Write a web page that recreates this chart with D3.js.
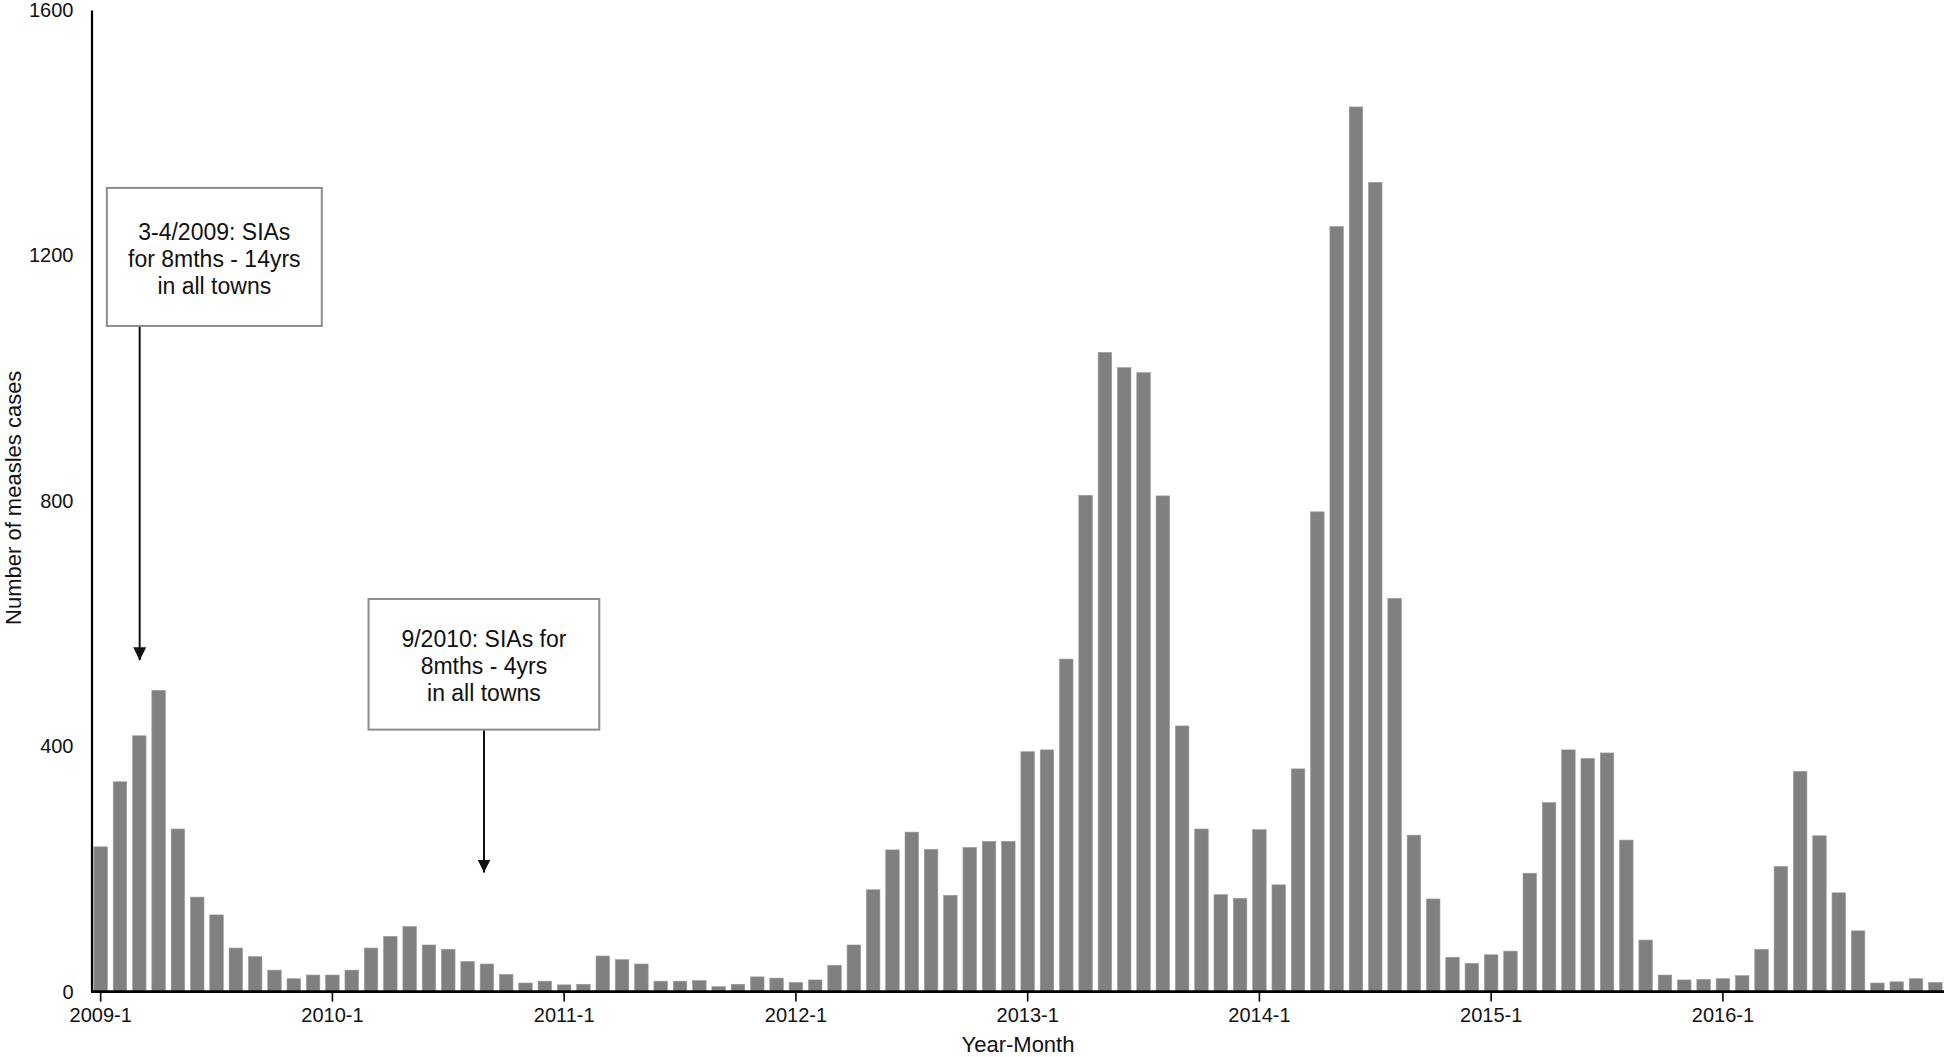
<!DOCTYPE html>
<html>
<head>
<meta charset="utf-8">
<script src="https://cdn.jsdelivr.net/npm/d3@7"></script>
<style>
  body { margin: 0; background: #fff; }
  svg { display: block; font-family: "Liberation Sans", Arial, sans-serif; }
  .bar { fill: #808080; stroke: #9a9a9a; stroke-width: 0.6; }
  .tick-label { font-size: 20px; fill: #111; }
  .axis-title { font-size: 22px; fill: #111; }
  .note-box { fill: #fff; stroke: #8c8c8c; stroke-width: 2; }
  .note-text { font-size: 23px; fill: #111; }
</style>
</head>
<body>
<svg id="chart"></svg>
<script>
// monthly measles cases, 2009-1 .. 2016-12
const years = [2009, 2010, 2011, 2012, 2013, 2014, 2015, 2016];
const months = years.flatMap(y => d3.range(1, 13).map(m => `${y}-${m}`));

const cases = [
  236, 342, 417, 491, 265, 154, 125, 71, 57, 35, 21, 27,
  27, 35, 71, 90, 106, 76, 69, 49, 45, 28, 14, 17,
  11, 12, 58, 52, 45, 17, 17, 18, 8, 12, 24, 22,
  15, 19, 43, 76, 166, 231, 260, 232, 157, 235, 245, 245,
  391, 394, 542, 809, 1042, 1017, 1009, 808, 433, 265, 158, 152,
  264, 174, 363, 782, 1247, 1442, 1319, 641, 255, 151, 56, 46,
  60, 66, 193, 308, 394, 380, 389, 247, 84, 27, 19, 20,
  21, 26, 69, 204, 359, 254, 161, 99, 14, 16, 21, 15
];

const xTicks = ["2009-1", "2010-1", "2011-1", "2012-1", "2013-1", "2014-1", "2015-1", "2016-1"];
const yTicks = [0, 400, 800, 1200, 1600];

const noteLines = [
  ["3-4/2009: SIAs", "for 8mths - 14yrs", "in all towns"],
  ["9/2010: SIAs for", "8mths - 4yrs", "in all towns"]
];

const width = 1946, height = 1057;
const margin = {top: 10, right: 1, bottom: 65, left: 91};

const svg = d3.select("#chart")
    .attr("width", width)
    .attr("height", height);

const x = d3.scaleBand()
    .domain(months)
    .range([margin.left, width - margin.right])
    .paddingInner(0.3)
    .paddingOuter(0.15);

const y = d3.scaleLinear()
    .domain([0, 1600])
    .range([height - margin.bottom - 0.4, margin.top]);

const data = months.map((m, i) => ({month: m, value: cases[i]}));

// position in month steps, counted from the first band centre
const xAt = i => x(months[0]) + x.bandwidth() / 2 + i * x.step();

svg.selectAll(".bar")
    .data(data)
    .enter().append("rect")
    .attr("class", "bar")
    .attr("x", d => x(d.month))
    .attr("y", d => y(d.value))
    .attr("width", x.bandwidth())
    .attr("height", d => y(0) - y(d.value));

// x axis
const xAxis = d3.axisBottom(x)
    .tickValues(xTicks)
    .tickSize(10)
    .tickSizeOuter(0)
    .tickPadding(6);

const gx = svg.append("g")
    .attr("transform", `translate(0,${y(0)})`)
    .call(xAxis);
gx.select(".domain")
    .attr("stroke", "#000")
    .attr("stroke-width", 2.6)
    .attr("d", `M${margin.left},0H${width - 2}`);
gx.selectAll(".tick line").attr("stroke", "#000").attr("stroke-width", 1.6);
gx.selectAll(".tick text")
    .attr("class", "tick-label")
    .attr("font-family", null)
    .attr("font-size", null)
    .attr("fill", null);

// y axis
const yAxis = d3.axisLeft(y)
    .tickValues(yTicks)
    .tickFormat(d3.format("d"))
    .tickSize(0)
    .tickPadding(18);

const gy = svg.append("g")
    .attr("transform", `translate(${margin.left + 0.5},0)`)
    .call(yAxis);
gy.select(".domain").attr("stroke", "#000").attr("stroke-width", 2.2);
gy.selectAll(".tick text")
    .attr("class", "tick-label")
    .attr("font-family", null)
    .attr("font-size", null)
    .attr("fill", null);

svg.append("text")
    .attr("class", "axis-title")
    .attr("x", xAt(47.5))
    .attr("y", height - 5)
    .attr("text-anchor", "middle")
    .text("Year-Month");

svg.append("text")
    .attr("class", "axis-title")
    .attr("transform", `translate(21,${(y(0) + y(1600)) / 2 - 3}) rotate(-90)`)
    .attr("text-anchor", "middle")
    .text("Number of measles cases");

// annotation boxes: [left, right] in month steps, [top, bottom] in cases
const boxes = [
  {i0: 0.32, i1: 11.45, v0: 1310, v1: 1085, arrowI: 2.02, tip: 540},
  {i0: 13.87, i1: 25.82, v0: 640, v1: 427, arrowI: 19.85, tip: 194}
];

svg.append("defs").append("marker")
    .attr("id", "head")
    .attr("viewBox", "0 0 10 10")
    .attr("refX", 10)
    .attr("refY", 5)
    .attr("markerWidth", 6.5)
    .attr("markerHeight", 6.5)
    .attr("markerUnits", "strokeWidth")
    .attr("orient", "auto")
  .append("path")
    .attr("d", "M0,0L10,5L0,10Z")
    .attr("fill", "#111");

boxes.forEach((b, k) => {
    const left = xAt(b.i0), right = xAt(b.i1);
    const top = y(b.v0), bottom = y(b.v1);

    svg.append("line")
        .attr("x1", xAt(b.arrowI))
        .attr("x2", xAt(b.arrowI))
        .attr("y1", bottom)
        .attr("y2", y(b.tip))
        .attr("stroke", "#111")
        .attr("stroke-width", 2)
        .attr("marker-end", "url(#head)");

    svg.append("rect")
        .attr("class", "note-box")
        .attr("x", left)
        .attr("y", top)
        .attr("width", right - left)
        .attr("height", bottom - top);

    const cx = (left + right) / 2;
    const midY = (top + bottom) / 2 + 2;
    noteLines[k].forEach((line, j) => {
        svg.append("text")
            .attr("class", "note-text")
            .attr("x", cx)
            .attr("y", midY + (j - 1) * 27)
            .attr("dy", "0.35em")
            .attr("text-anchor", "middle")
            .text(line);
    });
});
</script>
</body>
</html>
